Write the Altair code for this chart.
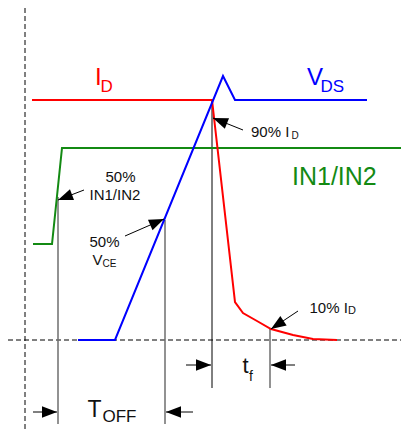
import math
import altair as alt
import pandas as pd

# ---- waveform data (reference pixel coordinates, y grows downward) ----
ID_X = [32, 212, 235, 243, 257, 271, 293, 313, 337]
ID_Y = [100, 100, 302, 313, 321, 329, 335, 339, 340]
VDS_X = [78, 115, 223, 235, 367]
VDS_Y = [340, 340, 76, 100, 100]
IN_X = [33, 52, 62, 401]
IN_Y = [244, 244, 148, 148]

# reference / dashed lines
DASH_X = [[25, 25], [8, 401]]
DASH_Y = [[8, 430], [340, 340]]

# measurement guides
GUIDE_X = [58, 165, 270]
GUIDE_Y1 = [197, 220, 329]
GUIDE_Y2 = [424, 424, 388]
BLACK_GUIDE_X = [212]
BLACK_GUIDE_Y1 = [100]
BLACK_GUIDE_Y2 = [388]

# arrows: tail -> tip
ARROW_TAIL_X = [84, 125, 243, 298, 33, 193, 186, 295]
ARROW_TAIL_Y = [190, 236, 130, 311, 412, 412, 365, 365]
ARROW_TIP_X = [58, 164, 213, 271, 57, 166, 211, 271]
ARROW_TIP_Y = [200, 219, 118, 329, 412, 412, 365, 365]

# text pieces
TXT = ["I", "D", "V", "DS", "IN1/IN2",
       "50%", "IN1/IN2", "50%", "V", "CE",
       "90% I", "D", "10% I", "D",
       "T", "OFF", "t", "f"]
TXT_X = [95, 100.5, 307, 320.5, 292,
         105.5, 89.5, 89.5, 92.5, 102.5,
         251, 291.5, 309.5, 348,
         87.5, 102.5, 242.5, 249]
TXT_Y = [85, 92, 85, 91.5, 185,
         181.5, 200, 247, 265, 267,
         137, 138.5, 312.5, 313.5,
         417, 422, 373, 381]
TXT_SIZE = [24, 17, 24, 17, 25,
            15, 15, 15, 15, 10,
            15, 10, 15, 11,
            23, 17, 22, 14]
TXT_COLOR = ["#ff0000", "#ff0000", "#0000ff", "#0000ff", "#138a13",
             "#111111", "#111111", "#111111", "#111111", "#111111",
             "#111111", "#111111", "#111111", "#111111",
             "#111111", "#111111", "#111111", "#111111"]

RED, BLUE, GREEN = "#ff0000", "#0000ff", "#138a13"

xs = alt.Scale(domain=[8, 401], nice=False, zero=False)
ys = alt.Scale(domain=[430, 8], nice=False, zero=False)
X = lambda f: alt.X(f, scale=xs, axis=None)
Y = lambda f: alt.Y(f, scale=ys, axis=None)


def poly(xv, yv, name):
    return pd.DataFrame({"x": xv, "y": yv, "o": list(range(len(xv))), "s": name})


def wave(xv, yv, color, name):
    return alt.Chart(poly(xv, yv, name)).mark_line(
        color=color, strokeWidth=2, strokeJoin="miter"
    ).encode(x=X("x:Q"), y=Y("y:Q"), order="o:Q")


dash_df = pd.concat([poly(DASH_X[i], DASH_Y[i], f"d{i}") for i in range(len(DASH_X))])
dashes = alt.Chart(dash_df).mark_line(color="#000000", strokeWidth=1, strokeDash=[5, 3]).encode(
    x=X("x:Q"), y=Y("y:Q"), detail="s:N", order="o:Q")

guides = alt.Chart(pd.DataFrame({"x": GUIDE_X, "y": GUIDE_Y1, "y2": GUIDE_Y2})).mark_rule(
    color="#6e6e6e", strokeWidth=1.5).encode(x=X("x:Q"), y=Y("y:Q"), y2="y2:Q")
bguides = alt.Chart(pd.DataFrame({"x": BLACK_GUIDE_X, "y": BLACK_GUIDE_Y1, "y2": BLACK_GUIDE_Y2})).mark_rule(
    color="#000000", strokeWidth=1).encode(x=X("x:Q"), y=Y("y:Q"), y2="y2:Q")

ang = [(math.degrees(math.atan2(ty - sy, tx - sx)) + 360) % 360
       for sx, sy, tx, ty in zip(ARROW_TAIL_X, ARROW_TAIL_Y, ARROW_TIP_X, ARROW_TIP_Y)]
arr_df = pd.DataFrame({"x": ARROW_TAIL_X, "y": ARROW_TAIL_Y, "x2": ARROW_TIP_X, "y2": ARROW_TIP_Y, "a": ang})
arrow_lines = alt.Chart(arr_df).mark_rule(color="#000000", strokeWidth=1).encode(
    x=X("x:Q"), y=Y("y:Q"), x2="x2:Q", y2="y2:Q")
arrow_heads = alt.Chart(arr_df).mark_point(
    shape="M0,0L-1,-0.38L-1,0.38Z", filled=True, color="#000000", opacity=1, size=900, strokeWidth=0
).encode(x=X("x2:Q"), y=Y("y2:Q"), angle=alt.Angle("a:Q", scale=None))

txt_df = pd.DataFrame({"t": TXT, "x": TXT_X, "y": TXT_Y, "s": TXT_SIZE, "c": TXT_COLOR})
texts = alt.Chart(txt_df).mark_text(
    align="left", baseline="alphabetic", font="Liberation Sans"
).encode(x=X("x:Q"), y=Y("y:Q"), text="t:N",
         size=alt.Size("s:Q", scale=None), color=alt.Color("c:N", scale=None))

chart = alt.layer(
    dashes, guides, bguides,
    wave(IN_X, IN_Y, GREEN, "in"),
    wave(ID_X, ID_Y, RED, "id"),
    wave(VDS_X, VDS_Y, BLUE, "vds"),
    arrow_lines, arrow_heads, texts,
).properties(width=393, height=422, padding=0, autosize="none").configure_view(stroke=None)

chart.save("out.html", embed_options={"renderer": "svg", "actions": False})
